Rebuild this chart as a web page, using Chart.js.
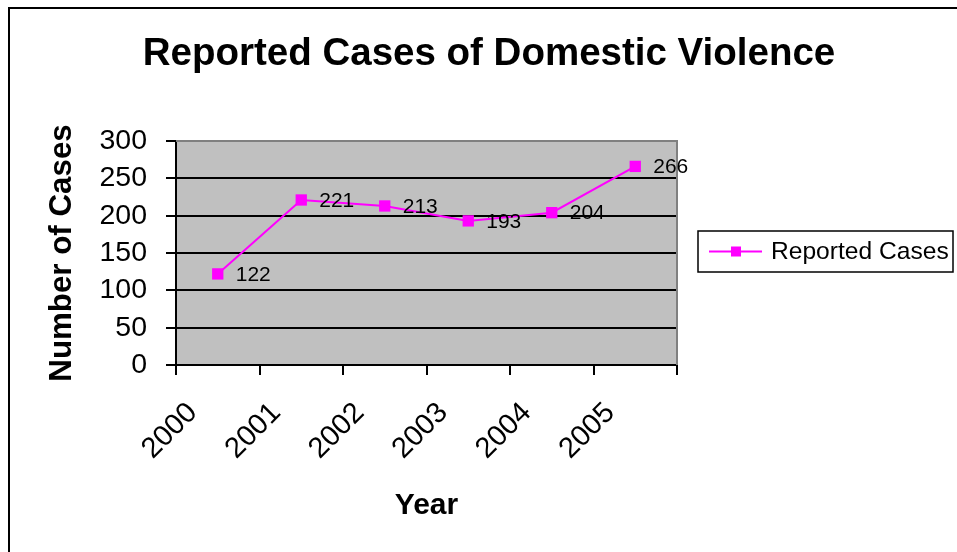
<!DOCTYPE html>
<html>
<head>
<meta charset="utf-8">
<script src="https://cdn.jsdelivr.net/npm/chart.js@4.4.1/dist/chart.umd.min.js"></script>
<style>
  html, body { margin: 0; padding: 0; background: #fff; }
  #wrap { width: 957px; height: 552px; position: relative; }
</style>
</head>
<body>
<div id="wrap"><canvas id="c" width="957" height="552"></canvas></div>
<script>
// Chart content
const chartTitle = 'Reported Cases of Domestic Violence';
const years = ['2000', '2001', '2002', '2003', '2004', '2005'];
const reportedCases = [122, 221, 213, 193, 204, 266];
const seriesName = 'Reported Cases';
const xAxisTitle = 'Year';
const yAxisTitle = 'Number of Cases';
const yTicks = [0, 50, 100, 150, 200, 250, 300];

const FONT = "'Liberation Sans', Arial, sans-serif";
const MAGENTA = '#FF00FF';

// Excel-style decorations: frame, gray plot area, title, value labels, legend
const decor = {
  id: 'decor',
  beforeDraw(chart) {
    const { ctx, chartArea: a } = chart;
    ctx.save();
    ctx.fillStyle = '#fff';
    ctx.fillRect(0, 0, chart.width, chart.height);
    ctx.fillStyle = '#C0C0C0';
    ctx.fillRect(a.left, a.top, a.right - a.left, a.bottom - a.top);
    ctx.restore();
  },
  beforeDatasetsDraw(chart) {
    const { ctx, chartArea: a } = chart;
    ctx.save();
    ctx.strokeStyle = '#808080';
    ctx.lineWidth = 2;
    ctx.beginPath();
    ctx.moveTo(a.left, a.top);
    ctx.lineTo(a.right, a.top);
    ctx.lineTo(a.right, a.bottom);
    ctx.stroke();
    ctx.restore();
  },
  afterDatasetsDraw(chart) {
    const { ctx } = chart;
    const meta = chart.getDatasetMeta(0);
    const values = chart.data.datasets[0].data;
    ctx.save();
    ctx.fillStyle = '#000';
    ctx.font = '21px ' + FONT;
    ctx.textAlign = 'left';
    ctx.textBaseline = 'middle';
    meta.data.forEach((pt, i) => {
      ctx.fillText(String(values[i]), pt.x + 18, pt.y + 1);
    });
    ctx.restore();
  },
  afterDraw(chart) {
    const { ctx } = chart;
    ctx.save();
    // outer frame
    ctx.strokeStyle = '#000';
    ctx.lineWidth = 2;
    ctx.beginPath();
    ctx.moveTo(9, chart.height + 5);
    ctx.lineTo(9, 8);
    ctx.lineTo(chart.width + 5, 8);
    ctx.stroke();

    // title
    ctx.fillStyle = '#000';
    ctx.font = 'bold 38.5px ' + FONT;
    ctx.textAlign = 'center';
    ctx.textBaseline = 'middle';
    ctx.fillText(chartTitle, 489, 54);

    // legend
    const lx = 698, ly = 231, lw = 255, lh = 41;
    ctx.fillStyle = '#fff';
    ctx.fillRect(lx, ly, lw, lh);
    ctx.strokeStyle = '#000';
    ctx.lineWidth = 1.5;
    ctx.strokeRect(lx, ly, lw, lh);
    const cy = ly + lh / 2;
    ctx.strokeStyle = MAGENTA;
    ctx.lineWidth = 2;
    ctx.beginPath();
    ctx.moveTo(709, cy);
    ctx.lineTo(762, cy);
    ctx.stroke();
    ctx.fillStyle = MAGENTA;
    ctx.fillRect(731, cy - 5, 10, 10);
    ctx.fillStyle = '#000';
    ctx.font = '24.6px ' + FONT;
    ctx.textAlign = 'left';
    ctx.fillText(seriesName, 771, cy + 1);
    ctx.restore();
  }
};

new Chart(document.getElementById('c'), {
  type: 'line',
  data: {
    labels: years,
    datasets: [{
      label: seriesName,
      data: reportedCases,
      borderColor: MAGENTA,
      backgroundColor: MAGENTA,
      borderWidth: 2,
      pointStyle: 'rect',
      pointRadius: 8,
      pointBorderWidth: 0,
      pointBackgroundColor: MAGENTA,
      tension: 0,
      fill: false
    }]
  },
  options: {
    responsive: false,
    animation: false,
    devicePixelRatio: 1,
    layout: { padding: { left: 0, right: 280, top: 141, bottom: 0 } },
    plugins: {
      legend: { display: false },
      title: { display: false },
      tooltip: { enabled: false }
    },
    scales: {
      x: {
        type: 'category',
        offset: true,
        afterFit(scale) { scale.height = 552 - 365; },
        grid: {
          offset: true,
          drawOnChartArea: false,
          drawTicks: true,
          tickLength: 10,
          color: '#000',
          lineWidth: 2
        },
        border: { display: true, color: '#000', width: 2 },
        ticks: {
          autoSkip: false,
          minRotation: 45,
          maxRotation: 45,
          padding: 21,
          labelOffset: -25,
          color: '#000',
          font: { family: FONT, size: 29 }
        },
        title: {
          display: true,
          text: xAxisTitle,
          color: '#000',
          font: { family: FONT, size: 30, weight: 'bold' },
          padding: { top: 0, bottom: 28 }
        }
      },
      y: {
        min: 0,
        max: 300,
        afterFit(scale) { scale.width = 176; },
        afterBuildTicks(scale) { scale.ticks = yTicks.map(v => ({ value: v })); },
        grid: {
          drawOnChartArea: true,
          drawTicks: true,
          tickLength: 10,
          color: '#000',
          lineWidth: 2
        },
        border: { display: true, color: '#000', width: 2 },
        ticks: {
          padding: 19,
          color: '#000',
          font: { family: FONT, size: 28.5 }
        },
        title: {
          display: true,
          text: yAxisTitle,
          color: '#000',
          font: { family: FONT, size: 31.3, weight: 'bold' },
          padding: { top: 44, bottom: 0 }
        }
      }
    }
  },
  plugins: [decor]
});
</script>
</body>
</html>
